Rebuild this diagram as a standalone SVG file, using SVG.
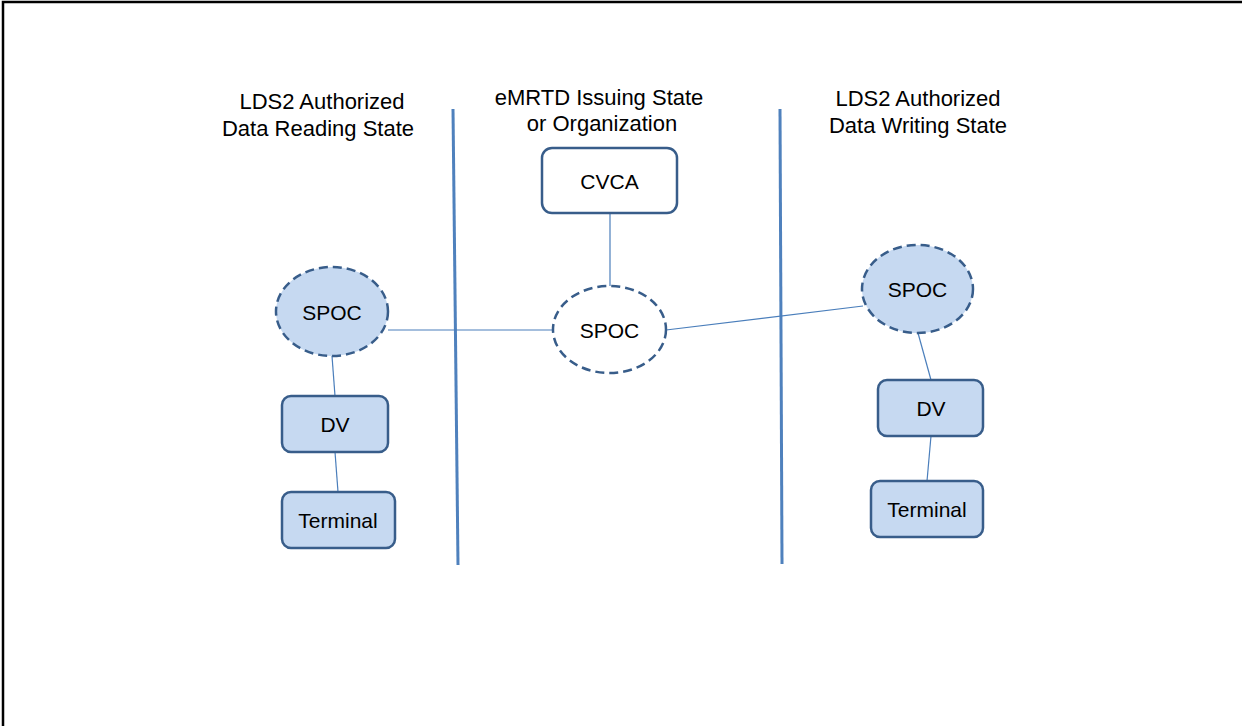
<svg xmlns="http://www.w3.org/2000/svg" width="1242" height="726" viewBox="0 0 1242 726">
  <style>
    text { font-family: "Liberation Sans", Arial, sans-serif; font-size: 21px; fill: #000; text-anchor: middle; }
    .heading { font-size: 22px; }
    .divider { stroke: #4F81BD; stroke-width: 3; fill: none; }
    .link { stroke: #4A7EBB; stroke-width: 1.2; fill: none; }
    .box { fill: #C6D9F1; stroke: #385D8A; stroke-width: 2.5; }
    .box-plain { fill: #FFFFFF; stroke: #385D8A; stroke-width: 2.5; }
    .spoc { fill: #C6D9F1; stroke: #385D8A; stroke-width: 2.5; stroke-dasharray: 9 5; }
    .spoc-plain { fill: #FFFFFF; stroke: #385D8A; stroke-width: 2.5; stroke-dasharray: 9 5; }
  </style>

  <rect x="0" y="0" width="1242" height="726" fill="#FFFFFF"/>
  <!-- frame -->
  <rect x="3" y="2" width="1300" height="800" fill="none" stroke="#000" stroke-width="2.5"/>

  <!-- domain dividers -->
  <g id="dividers">
    <line class="divider" x1="453" y1="109" x2="458" y2="565"/>
    <line class="divider" x1="780" y1="109" x2="782" y2="564"/>
  </g>

  <!-- region headings -->
  <g id="headings">
    <text class="heading" x="322" y="109">LDS2 Authorized</text>
    <text class="heading" x="318" y="136">Data Reading State</text>
    <text class="heading" x="599" y="105">eMRTD Issuing State</text>
    <text class="heading" x="602" y="131">or Organization</text>
    <text class="heading" x="918" y="106">LDS2 Authorized</text>
    <text class="heading" x="918" y="133">Data Writing State</text>
  </g>

  <!-- connectors -->
  <g id="connectors">
    <line class="link" x1="332" y1="356" x2="335" y2="396"/>
    <line class="link" x1="335" y1="452" x2="338" y2="492"/>
    <line class="link" x1="388" y1="330" x2="554" y2="330"/>
    <line class="link" x1="610" y1="213" x2="610" y2="286"/>
    <line class="link" x1="666" y1="330" x2="863" y2="306"/>
    <line class="link" x1="918" y1="333" x2="931" y2="380"/>
    <line class="link" x1="931" y1="436" x2="927" y2="481"/>
  </g>

  <!-- reading state -->
  <g id="spoc-reading">
    <ellipse class="spoc" cx="332" cy="311.5" rx="56" ry="44.5"/>
    <text x="332" y="320">SPOC</text>
  </g>
  <g id="dv-reading">
    <rect class="box" x="282" y="396" width="106" height="56" rx="9"/>
    <text x="335" y="432">DV</text>
  </g>
  <g id="terminal-reading">
    <rect class="box" x="282" y="492" width="113" height="56" rx="9"/>
    <text x="338" y="528">Terminal</text>
  </g>

  <!-- issuing state -->
  <g id="cvca">
    <rect class="box-plain" x="542" y="148" width="135" height="65" rx="10"/>
    <text x="609.5" y="189">CVCA</text>
  </g>
  <g id="spoc-issuing">
    <ellipse class="spoc-plain" cx="609.5" cy="329.5" rx="56.5" ry="43.5"/>
    <text x="609.5" y="338">SPOC</text>
  </g>

  <!-- writing state -->
  <g id="spoc-writing">
    <ellipse class="spoc" cx="917.5" cy="289" rx="55.5" ry="44"/>
    <text x="917.5" y="297">SPOC</text>
  </g>
  <g id="dv-writing">
    <rect class="box" x="878" y="380" width="105" height="56" rx="9"/>
    <text x="931" y="416">DV</text>
  </g>
  <g id="terminal-writing">
    <rect class="box" x="871" y="481" width="112" height="56" rx="9"/>
    <text x="927" y="517">Terminal</text>
  </g>
</svg>
